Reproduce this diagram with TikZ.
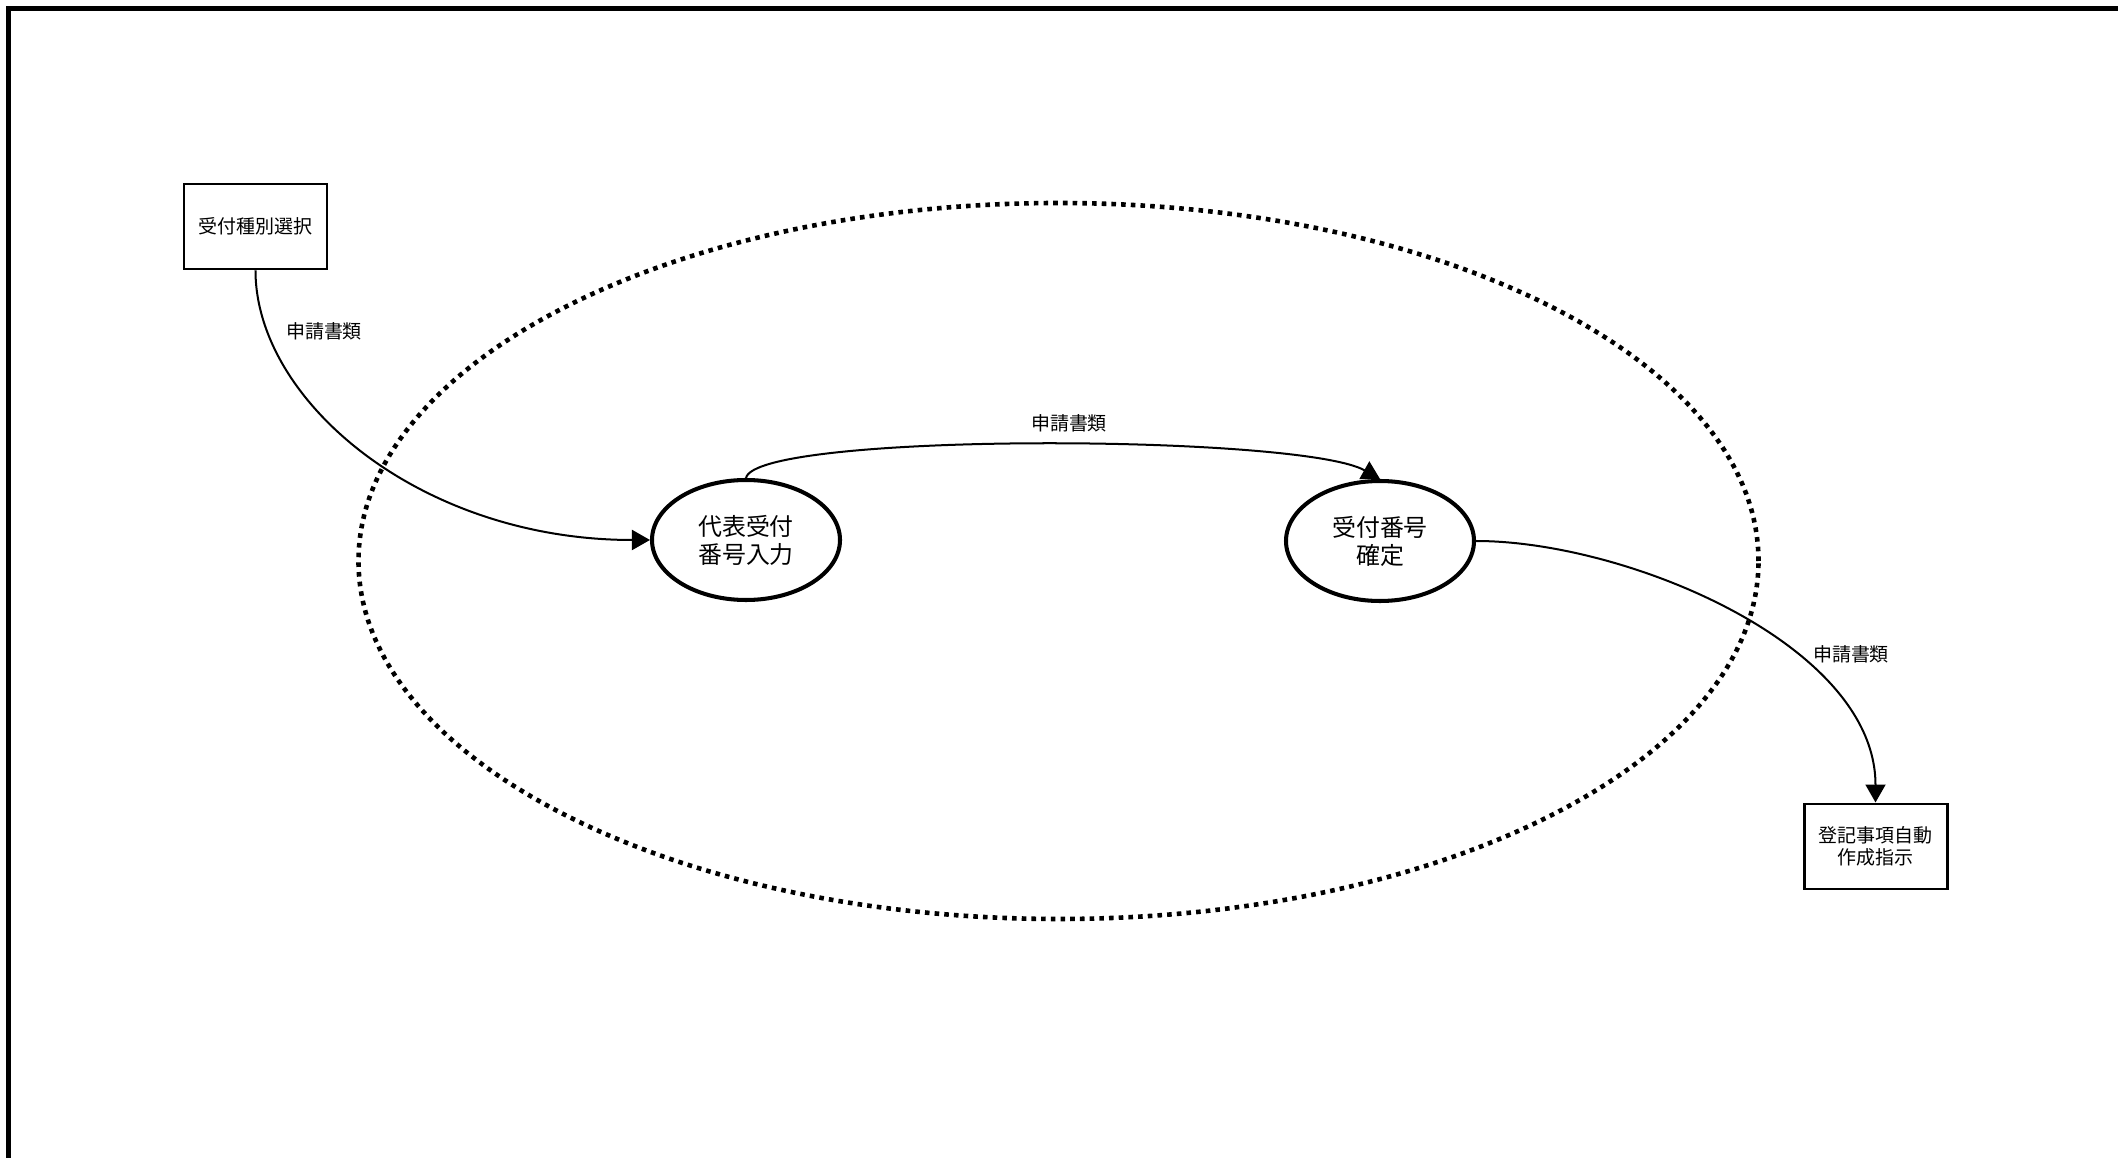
\documentclass[tikz,border=0pt]{standalone}
\usepackage{fontspec}
\newfontfamily\jpfont{Noto Sans CJK JP}
\usetikzlibrary{shapes,arrows.meta}
\tikzset{proc/.style={ellipse,draw,line width=1.15pt,minimum width=1.88cm,minimum height=1.2cm,inner sep=0pt,align=center,font=\jpfont\fontsize{6.8pt}{8pt}\selectfont},
         ext/.style={rectangle,draw,line width=0.85pt,minimum width=1.43cm,minimum height=0.85cm,inner sep=0pt,align=center,font=\jpfont\fontsize{5.4pt}{6.3pt}\selectfont},
         flow/.style={-{Triangle[length=0.18cm,width=0.2cm]},line width=0.57pt},
         lbl/.style={font=\jpfont\fontsize{5.4pt}{6.3pt}\selectfont},
         bound/.style={line width=0.046cm,dash pattern=on 0.046cm off 0.051cm}
}

\begin{document}
\begin{tikzpicture}
    \useasboundingbox (0,0) rectangle (21.18,-11.58);
    \draw[line width=0.05cm] (0.085,-11.58) -- (0.085,-0.085) -- (21.18,-0.085);
    \draw[bound] (10.585,-5.61) ellipse (7.00 and 3.58);
    \node[ext]  (sel)  at (2.555,-2.265)  {受付種別選択};
    \node[proc] (rep)  at (7.46,-5.40)   {代表受付\\番号入力};
    \node[proc] (fix)  at (13.80,-5.41)  {受付番号\\確定};
    \node[ext]  (auto) at (18.755,-8.465) {登記事項自動\\作成指示};
    \draw[flow] (sel.south) .. controls +(0,-1.3) and +(-2.3,0) .. (rep.west);
    \draw[flow] (rep.north) .. controls +(0.1,0.46) and +(-0.8,0.45) .. (fix.north);
    \draw[flow] (fix.east) .. controls +(1.5,0) and +(0,1.58) .. (auto.north);
    \node[lbl] (l1) at (3.24,-3.31)  {申請書類};
    \node[lbl] (l2) at (10.69,-4.23) {申請書類};
    \node[lbl] (l3) at (18.51,-6.54) {申請書類};
\end{tikzpicture}
\end{document}
